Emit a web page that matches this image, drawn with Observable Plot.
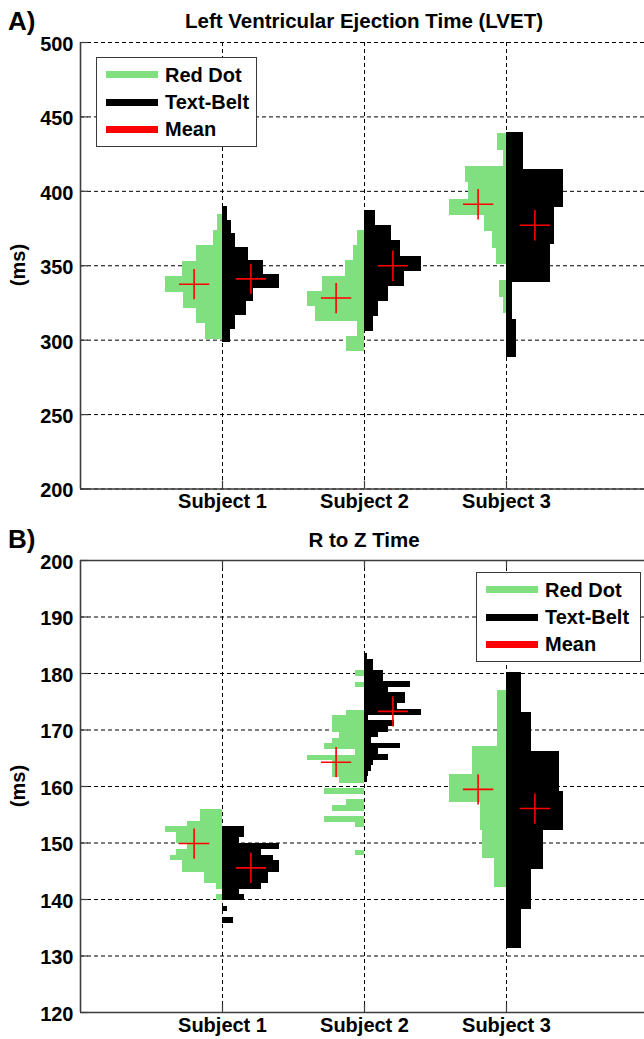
<!DOCTYPE html>
<html>
<head>
<meta charset="utf-8">
<script src="https://cdn.jsdelivr.net/npm/d3@7"></script>
<script src="https://cdn.jsdelivr.net/npm/@observablehq/plot@0.6"></script>
<style>
  body { margin: 0; background: #fff; overflow: hidden; }
  #fig { position: relative; width: 644px; height: 1039px; overflow: hidden;
         font-family: "Liberation Sans", Arial, sans-serif; font-weight: bold; color: #000; }
  #fig svg { position: absolute; left: 0; }
  .title { position: absolute; left: 80px; width: 568px; text-align: center; font-size: 20.5px; line-height: 20px; white-space: nowrap; }
  .tag { position: absolute; left: 8px; font-size: 26px; line-height: 26px; }
  .ylab { position: absolute; width: 60px; height: 20px; font-size: 20px; line-height: 20px; text-align: center;
          transform: rotate(-90deg); }
  .legend { position: absolute; box-sizing: border-box; background: #fff; border: 1.5px solid #3a3a3a; height: 90px; }
  .legend .row { position: absolute; left: 9px; height: 20px; display: flex; align-items: center; font-size: 20px; line-height: 20px; white-space: nowrap; }
  .legend .sw { width: 52px; height: 7px; margin-right: 7px; flex: none; }
</style>
</head>
<body>
<div id="fig"></div>
<script>
// ---- categories and series ----
const subjects = ["Subject 1", "Subject 2", "Subject 3"];
const seriesNames = ["Red Dot", "Text-Belt", "Mean"];

// ---- A) LVET (ms): histogram per subject, lower edge of first bin, bin width,
//      bin heights relative to the tallest bin (bottom bin first) ----
const lvetRedDotStart = [300.5, 292.4, 317.9];
const lvetRedDotStep  = [10.49, 10.14, 10.98];
const lvetRedDot1 = [0.30, 0.46, 0.68, 1.00, 0.71, 0.46, 0.16, 0.09];
const lvetRedDot2 = [0.32, 0.13, 0.87, 1.00, 0.74, 0.33, 0.20, 0.13];
const lvetRedDot3 = [0.05, 0.12, 0, 0.17, 0.24, 0.39, 1.00, 0.67, 0.73, 0.05, 0.16];

const lvetBeltStart = [298.3, 305.8, 288.4];
const lvetBeltStep  = [9.15, 10.15, 25.23];
const lvetBelt1 = [0.14, 0.23, 0.42, 0.55, 1.00, 0.73, 0.46, 0.23, 0.15, 0.08];
const lvetBelt2 = [0.15, 0.24, 0.42, 0.70, 1.00, 0.63, 0.48, 0.20];
const lvetBelt3 = [0.18, 0.10, 0.77, 0.84, 1.00, 0.30];

const lvetRedDotMean = [337.6, 328.3, 391.3];
const lvetBeltMean   = [341.2, 350.0, 377.2];

// ---- B) R to Z time (ms) ----
const rzRedDotStart = [139.8, 147.7, 142.2];
const rzRedDotStep  = [1.006, 0.993, 4.97];
const rzRedDot1 = [0.10, 0, 0.10, 0.31, 0.32, 0.71, 0.71, 0.91, 0.81, 0.62, 0.81, 0.81, 1.00, 0.62, 0.39, 0.39];
const rzRedDot2 = [0.16, 0, 0, 0, 0, 0.16, 0.71, 0, 0.57, 0.31, 0, 0.71, 0, 0.44, 0.57, 0.57, 0.57,
                   1.00, 0.16, 0.71, 0.57, 0.44, 0.57, 0.57, 0.57, 0.31, 0, 0, 0, 0, 0.16, 0, 0.16];
const rzRedDot3 = [0.21, 0.42, 0.46, 1.00, 0.59, 0.16, 0.16];

const rzBeltStart = [135.8, 160.7, 131.3];
const rzBeltStep  = [1.006, 0.993, 6.97];
const rzBelt1 = [0.20, 0, 0.09, 0, 0.38, 0.30, 0.69, 0.81, 0.81, 1.00, 1.00, 0.90, 0.69, 1.00, 0.30, 0.38, 0.38];
const rzBelt2 = [0.06, 0.07, 0.12, 0.16, 0.43, 0.25, 0.63, 0.13, 0.25, 0.43, 0.53, 0.07, 1.00, 0.58,
                 0.72, 0.72, 0.43, 0.81, 0.34, 0.34, 0.15, 0.15, 0.06];
const rzBelt3 = [0.27, 0.44, 0.65, 1.00, 0.93, 0.44, 0.27];

const rzRedDotMean = [149.9, 164.3, 159.5];
const rzBeltMean   = [145.6, 173.3, 156.1];

// ---- axis ticks ----
const lvetTicks = [200, 250, 300, 350, 400, 450, 500];
const rzTicks = [120, 130, 140, 150, 160, 170, 180, 190, 200];

// ---- styling ----
const GREEN = "#80e080";
const BLACK = "#000000";
const RED = "#ff0000";
const AXIS = "#3c3c3c";
const HALF = 0.4;           // widest bin spans this fraction of the subject spacing
const FONT = "'Liberation Sans', Arial, sans-serif";

// Split histogram: Red Dot grows to the left of the subject line, Text-Belt to the right
function histBars(subject, side, series, start, step, freq) {
  return freq.map((f, i) => ({
    series,
    y1: start + i * step,
    y2: start + (i + 1) * step,
    x1: subject,
    x2: subject + side * HALF * f
  })).filter(d => d.x2 !== d.x1);
}

function buildBars(rdStart, rdStep, rdFreqs, tbStart, tbStep, tbFreqs) {
  const out = [];
  for (let i = 0; i < 3; i++) {
    out.push(...histBars(i + 1, -1, "Red Dot", rdStart[i], rdStep[i], rdFreqs[i]));
    out.push(...histBars(i + 1, +1, "Text-Belt", tbStart[i], tbStep[i], tbFreqs[i]));
  }
  return out;
}

function buildMeans(rdMean, tbMean) {
  const out = [];
  for (let i = 0; i < 3; i++) {
    out.push({x: i + 1 - HALF / 2, y: rdMean[i]});
    out.push({x: i + 1 + HALF / 2, y: tbMean[i]});
  }
  return out;
}

function panel({height, marginTop, marginBottom, yDomain, yTicks, bars, means, topBox}) {
  const width = 644, marginLeft = 80, marginRight = 0;
  const plotH = height - marginTop - marginBottom;
  const plotW = width - marginLeft - marginRight;
  const dash = {stroke: "#000", strokeOpacity: 1, strokeWidth: 1, strokeDasharray: "4,3"};
  const marks = [
    Plot.gridY(yTicks, dash),
    Plot.gridX([1, 2, 3], dash),
    Plot.rect(bars, {x1: "x1", x2: "x2", y1: "y1", y2: "y2", fill: "series", shapeRendering: "crispEdges"}),
    Plot.dot(means, {x: "x", y: "y", symbol: "plus", r: 9.8, stroke: RED, strokeWidth: 1.6}),
    Plot.ruleX([0], {stroke: AXIS, strokeWidth: 1.6}),
    Plot.ruleY([yDomain[0]], {stroke: AXIS, strokeWidth: 1.6}),
    Plot.tickX([1, 2, 3], {x: d => d, stroke: AXIS, strokeWidth: 1.2, insetTop: plotH - 8}),
    Plot.tickY(yTicks, {y: d => d, stroke: AXIS, strokeWidth: 1.2, insetRight: plotW - 8}),
    Plot.axisY({ticks: yTicks, tickSize: 0, tickPadding: 7, label: null, fontSize: 20, fontWeight: "bold", dy: 2}),
    Plot.axisX({ticks: [1, 2, 3], tickFormat: d => subjects[d - 1], tickSize: 0, tickPadding: 5,
                label: null, fontSize: 20, fontWeight: "bold"})
  ];
  if (topBox) {
    marks.push(Plot.ruleY([yDomain[1]], {stroke: AXIS, strokeWidth: 1.6}));
    marks.push(Plot.tickX([1, 2, 3], {x: d => d, stroke: AXIS, strokeWidth: 1.2, insetBottom: plotH - 8}));
  }
  return Plot.plot({
    width, height, marginLeft, marginRight, marginTop, marginBottom,
    x: {domain: [0, 4], range: [marginLeft, 648], axis: null},
    y: {domain: yDomain, axis: null},
    color: {domain: ["Red Dot", "Text-Belt"], range: [GREEN, BLACK]},
    style: {fontFamily: FONT, fontSize: "20px", fontWeight: "bold", color: "#000", background: "transparent"},
    marks
  });
}

const fig = document.getElementById("fig");

const svgA = panel({
  height: 520, marginTop: 42, marginBottom: 31.5,
  yDomain: [200, 500], yTicks: lvetTicks,
  bars: buildBars(lvetRedDotStart, lvetRedDotStep, [lvetRedDot1, lvetRedDot2, lvetRedDot3],
                  lvetBeltStart, lvetBeltStep, [lvetBelt1, lvetBelt2, lvetBelt3]),
  means: buildMeans(lvetRedDotMean, lvetBeltMean),
  topBox: false
});
svgA.style.top = "0px";
fig.appendChild(svgA);

const svgB = panel({
  height: 519, marginTop: 40, marginBottom: 27,
  yDomain: [120, 200], yTicks: rzTicks,
  bars: buildBars(rzRedDotStart, rzRedDotStep, [rzRedDot1, rzRedDot2, rzRedDot3],
                  rzBeltStart, rzBeltStep, [rzBelt1, rzBelt2, rzBelt3]),
  means: buildMeans(rzRedDotMean, rzBeltMean),
  topBox: true
});
svgB.style.top = "520px";
fig.appendChild(svgB);

// ---- titles, panel tags, axis labels ----
function addDiv(cls, text, css) {
  const d = document.createElement("div");
  d.className = cls;
  d.textContent = text;
  Object.assign(d.style, css);
  fig.appendChild(d);
  return d;
}
addDiv("title", "Left Ventricular Ejection Time (LVET)", {top: "11px"});
addDiv("title", "R to Z Time", {top: "530px"});
addDiv("tag", "A)", {top: "8px"});
addDiv("tag", "B)", {top: "526px"});
addDiv("ylab", "(ms)", {left: "-12px", top: "255px"});
addDiv("ylab", "(ms)", {left: "-12px", top: "776px"});

// ---- legends ----
const swatches = [GREEN, BLACK, RED];
function addLegend(left, top, width) {
  const box = document.createElement("div");
  box.className = "legend";
  Object.assign(box.style, {left: left + "px", top: top + "px", width: width + "px"});
  [16.5, 44, 71].forEach((cy, i) => {
    const row = document.createElement("div");
    row.className = "row";
    row.style.top = (cy - 10) + "px";
    const sw = document.createElement("span");
    sw.className = "sw";
    sw.style.background = swatches[i];
    const label = document.createElement("span");
    label.textContent = seriesNames[i];
    row.appendChild(sw);
    row.appendChild(label);
    box.appendChild(row);
  });
  fig.appendChild(box);
}
addLegend(96, 57, 161);
addLegend(476, 572, 165);
</script>
</body>
</html>
